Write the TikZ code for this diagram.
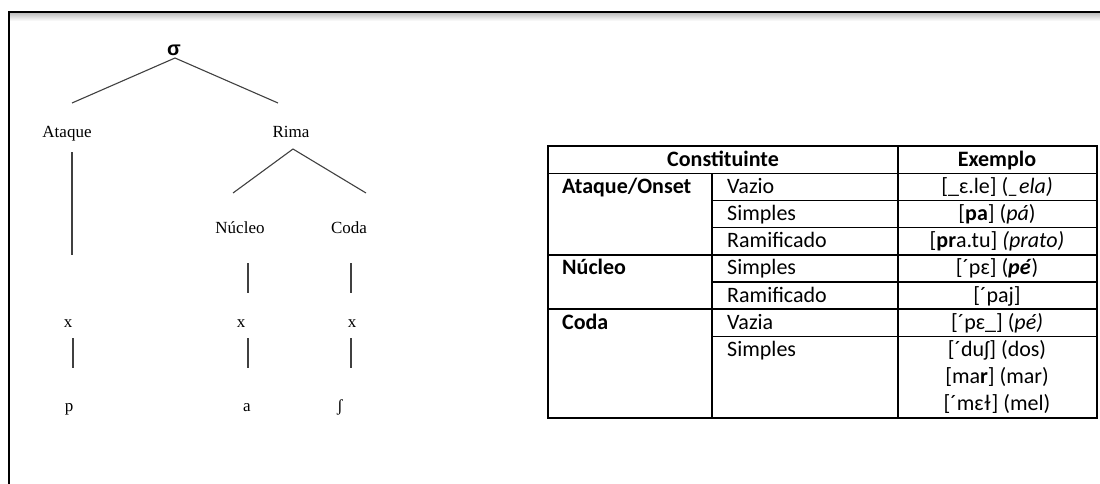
\documentclass[tikz,border=0pt]{standalone}
\usepackage{fontspec}
\setmainfont{Liberation Serif}
\newfontfamily\calibri{Carlito}
\newfontfamily\sigmafont{Liberation Sans}
\usetikzlibrary{positioning}
\tikzset{
  branch/.style={black!75, line width=1.1pt},
  lbl/.style={font=\fontsize{17}{20}\selectfont, inner sep=0pt, anchor=base},
  cell/.style={font=\calibri\fontsize{22}{27}\selectfont, inner sep=0pt, anchor=base west},
  ex/.style={font=\calibri\fontsize{22}{27}\selectfont, inner sep=0pt, anchor=base},
  rule/.style={line width=1.3pt},
  grouprule/.style={line width=2.2pt},
}

\begin{document}
\begin{tikzpicture}[x=1pt,y=-1pt]
  \useasboundingbox (0,0) rectangle (1100,484);
  % page frame with its shadow
  \shade[top color=black!25, bottom color=white] (9,13) rectangle (1100,21);
  \draw[line width=2.5pt] (9,484) -- (9,12) -- (1100,12);

  % syllable tree
  \node[lbl, font=\sigmafont\bfseries\fontsize{20}{20}\selectfont] (sigma) at (174,56) {σ};
  \node[lbl] (ataque) at (67,138) {Ataque};
  \node[lbl] (rima)   at (291,138) {Rima};
  \node[lbl] (nucleo) at (240,233) {Núcleo};
  \node[lbl] (coda)   at (349,233) {Coda};
  \node[lbl] (x1) at (68,327)  {x};
  \node[lbl] (x2) at (241,327) {x};
  \node[lbl] (x3) at (352,327) {x};
  \node[lbl] (p)  at (69,411)  {p};
  \node[lbl] (a)  at (247,411) {a};
  \node[lbl] (sh) at (340,411) {ʃ};

  \coordinate (sigmaFork) at (175,58);
  \coordinate (ataqueTop) at (72,103);
  \coordinate (rimaTop)   at (278,103);
  \coordinate (rimaFork)  at (293,149);
  \coordinate (nucleoTop) at (233,193);
  \coordinate (codaTop)   at (366,193);
  \draw[branch] (ataqueTop) -- (sigmaFork) -- (rimaTop);
  \draw[branch] (nucleoTop) -- (rimaFork) -- (codaTop);
  \draw[branch] (72,152) -- (72,255);
  \foreach \cx in {248,351}
    \draw[branch] (\cx,263) -- (\cx,293);
  \foreach \cx in {73,248,351}
    \draw[branch] (\cx,338) -- (\cx,368);

  % table of constituents
  \draw[grouprule] (548,146) rectangle (1097,418);
  \draw[rule] (548,173.2) -- (1097,173.2);
  \draw[rule] (712,173.2) -- (712,418);
  \draw[rule] (898,146) -- (898,418);
  \foreach \ry in {200.4,227.6,282,336.4}
    \draw[rule] (712,\ry) -- (1097,\ry);
  \foreach \ry in {254.8,309.2}
    \draw[grouprule] (548,\ry) -- (1097,\ry);

  \node[ex] (hconst) at (723,166) {\textbf{Constituinte}};
  \node[ex] (hex)    at (997,166) {\textbf{Exemplo}};

  \node[cell] (onset) at (562,193.2) {\textbf{Ataque/Onset}};
  \node[cell] (nuc)   at (562,274.8) {\textbf{Núcleo}};
  \node[cell] (cod)   at (562,329.2) {\textbf{Coda}};

  \node[cell] (t1) at (727,193.2) {Vazio};
  \node[cell] (t2) at (727,220.4) {Simples};
  \node[cell] (t3) at (727,247.6) {Ramificado};
  \node[cell] (t4) at (727,274.8) {Simples};
  \node[cell] (t5) at (727,302)   {Ramificado};
  \node[cell] (t6) at (727,329.2) {Vazia};
  \node[cell] (t7) at (727,356.4) {Simples};

  \node[ex] (e1) at (997,193.2) {[\_ɛ.le] (\textit{\_ela)}};
  \node[ex] (e2) at (997,220.4) {[\textbf{pa}] (\textit{pá})};
  \node[ex] (e3) at (997,247.6) {[\textbf{pr}a.tu] \textit{(prato)}};
  \node[ex] (e4) at (997,274.8) {[´pɛ] (\textbf{\textit{pé}})};
  \node[ex] (e5) at (997,302)   {[´paj]};
  \node[ex] (e6) at (997,329.2) {[´pɛ\_] (\textit{pé)}};
  \node[ex] (e7) at (997,356.4) {[´duʃ] (dos)};
  \node[ex] (e8) at (997,383.6) {[ma\textbf{r}] (mar)};
  \node[ex] (e9) at (997,410.8) {[´mɛɫ] (mel)};
\end{tikzpicture}
\end{document}
